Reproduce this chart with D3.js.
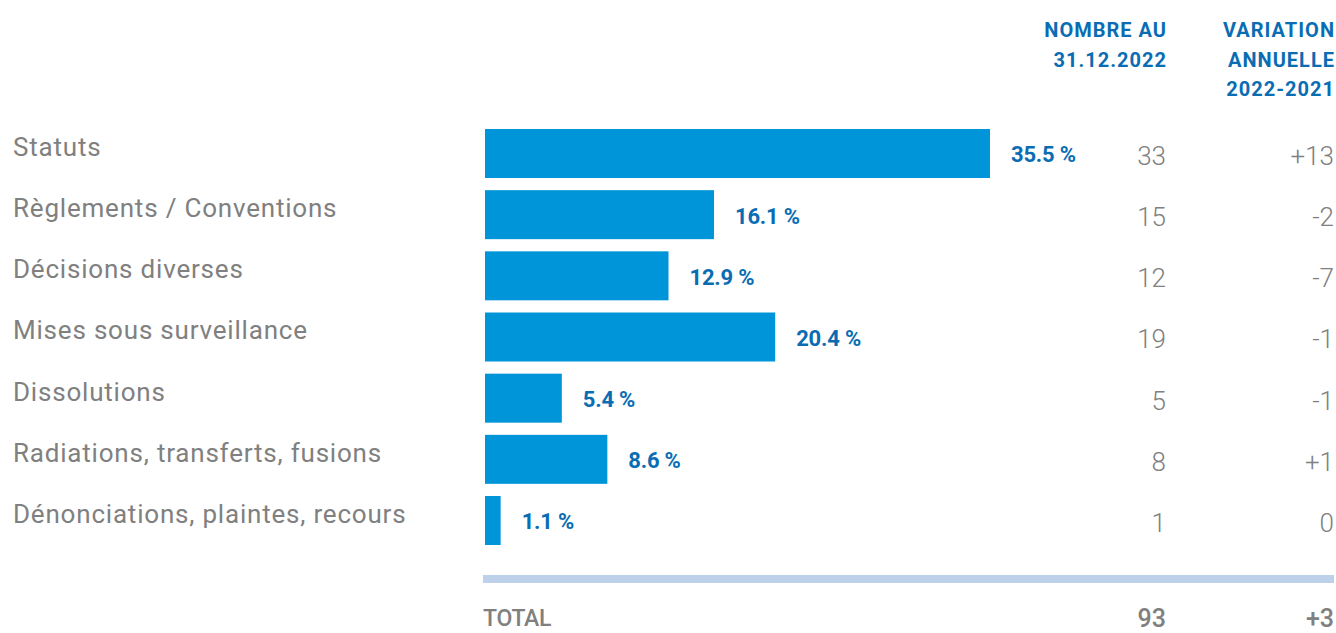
<!DOCTYPE html>
<html lang="fr">
<head>
  <meta charset="UTF-8">
  <title>Répartition</title>
  <script src="https://cdn.jsdelivr.net/npm/d3@7"></script>
  <style>
    body { margin: 0; background: #fff; }
    text { font-family: Roboto, "Noto Sans", sans-serif; }
  </style>
</head>
<body>
<div id="chart"></div>
<script>
  const categories = ["Statuts", "Règlements / Conventions", "Décisions diverses",
    "Mises sous surveillance", "Dissolutions", "Radiations, transferts, fusions",
    "Dénonciations, plaintes, recours"];
  const percents = [35.5, 16.1, 12.9, 20.4, 5.4, 8.6, 1.1];
  const counts = ["33", "15", "12", "19", "5", "8", "1"];
  const variations = ["+13", "-2", "-7", "-1", "-1", "+1", "0"];
  const headerCount = ["NOMBRE AU", "31.12.2022"];
  const headerVar = ["VARIATION", "ANNUELLE", "2022-2021"];
  const totalRow = ["TOTAL", "93", "+3"];

  const width = 1336, height = 633;
  const blue = "#0094d8", blueText = "#0a6db3", grey = "#808080";

  const svg = d3.select("#chart").append("svg")
      .attr("width", width).attr("height", height);

  let x = d3.scaleLinear().domain([0, 35.5]).range([485, 990]);
  let y = d3.scaleBand().domain(categories).range([129, 545])
      .paddingInner(0.199).paddingOuter(0);

  const colCount = 1166, colVar = 1334;

  // headers
  let hc = svg.append("text").attr("text-anchor", "end").attr("fill", blueText)
      .attr("font-size", 20).attr("font-weight", 700).attr("letter-spacing", 1);
  hc.selectAll("tspan").data(headerCount).join("tspan")
      .attr("x", colCount + 1).attr("y", (d, i) => 37 + i * 29.5).text(d => d);
  let hv = svg.append("text").attr("text-anchor", "end").attr("fill", blueText)
      .attr("font-size", 20).attr("font-weight", 700).attr("letter-spacing", 1);
  hv.selectAll("tspan").data(headerVar).join("tspan")
      .attr("x", colVar + 1).attr("y", (d, i) => 37 + i * 29.5).text(d => d);

  let rows = svg.selectAll("g.row").data(categories).join("g").attr("class", "row");

  rows.append("text")
      .attr("x", 13).attr("y", d => y(d) + y.bandwidth() / 2 - 7)
      .attr("dy", "0.36em").attr("font-size", 26).attr("fill", grey)
      .attr("letter-spacing", 0.8)
      .text(d => d);

  rows.append("rect")
      .attr("x", x(0)).attr("y", d => y(d))
      .attr("width", (d, i) => x(percents[i]) - x(0))
      .attr("height", y.bandwidth()).attr("fill", blue);

  rows.append("text")
      .attr("x", (d, i) => x(percents[i]) + 21)
      .attr("y", d => y(d) + y.bandwidth() / 2 + 1)
      .attr("dy", "0.36em").attr("font-size", 22).attr("font-weight", 700)
      .attr("letter-spacing", -0.2).attr("fill", blueText)
      .text((d, i) => percents[i].toFixed(1) + " %");

  rows.append("text")
      .attr("x", colCount).attr("y", d => y(d) + y.bandwidth() / 2 + 2)
      .attr("dy", "0.36em").attr("text-anchor", "end").attr("font-size", 26)
      .attr("font-weight", 300).attr("fill", grey)
      .text((d, i) => counts[i]);

  rows.append("text")
      .attr("x", colVar).attr("y", d => y(d) + y.bandwidth() / 2 + 2)
      .attr("dy", "0.36em").attr("text-anchor", "end").attr("font-size", 26)
      .attr("font-weight", 300).attr("fill", grey)
      .text((d, i) => variations[i]);

  // separator
  svg.append("rect").attr("x", 483).attr("y", 575).attr("width", colVar - 483)
      .attr("height", 8).attr("fill", "#bdd1ea");

  // total
  svg.append("text").attr("x", 483).attr("y", 618).attr("dy", "0.36em")
      .attr("font-size", 23).attr("font-weight", 500).attr("fill", grey)
      .attr("letter-spacing", -0.3).text(totalRow[0]);
  svg.append("text").attr("x", colCount).attr("y", 618).attr("dy", "0.36em")
      .attr("text-anchor", "end").attr("font-size", 25).attr("font-weight", 500)
      .attr("fill", grey).text(totalRow[1]);
  svg.append("text").attr("x", colVar).attr("y", 618).attr("dy", "0.36em")
      .attr("text-anchor", "end").attr("font-size", 25).attr("font-weight", 500)
      .attr("fill", grey).text(totalRow[2]);
</script>
</body>
</html>
